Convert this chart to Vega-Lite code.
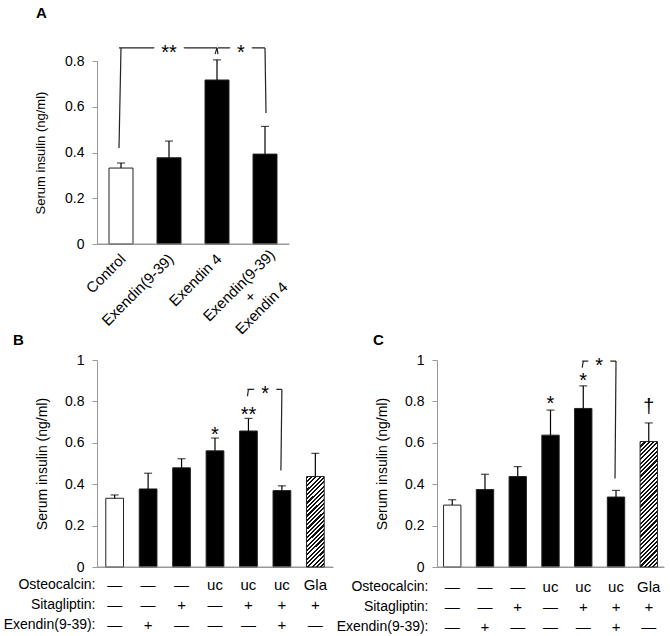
{
  "$schema": "https://vega.github.io/schema/vega-lite/v6.json",
  "padding": {"left": 3, "top": 5, "right": 2, "bottom": 2},
  "bounds": "flush",
  "spacing": 116,
  "config": {
    "font": "Liberation Sans",
    "view": {"stroke": null},
    "axis": {"labelColor": "black", "titleColor": "black", "domainColor": "#999", "tickColor": "#999", "grid": false},
    "title": {"color": "black"}
  },
  "datasets": {
    "barsA": [
      {"treatment": "Control", "mean": 0.332, "upper": 0.354, "bar": "open"},
      {"treatment": "Exendin(9-39)", "mean": 0.377, "upper": 0.45, "bar": "solid"},
      {"treatment": "Exendin 4", "mean": 0.717, "upper": 0.805, "bar": "solid"},
      {"treatment": "Exendin(9-39)|+|Exendin 4", "mean": 0.393, "upper": 0.514, "bar": "solid"}
    ],
    "bracketA": [
      {"bracket": 1, "treatment": "Control", "treatment2": "Control", "y": 0.42, "y2": 0.857},
      {"bracket": 1, "treatment": "Control", "treatment2": "Exendin 4", "y": 0.857, "y2": 0.857},
      {"bracket": 1, "treatment": "Exendin 4", "treatment2": "Exendin 4", "y": 0.83, "y2": 0.857},
      {"bracket": 2, "treatment": "Exendin 4", "treatment2": "Exendin 4", "y": 0.83, "y2": 0.857},
      {"bracket": 2, "treatment": "Exendin 4", "treatment2": "Exendin(9-39)|+|Exendin 4", "y": 0.857, "y2": 0.857},
      {"bracket": 2, "treatment": "Exendin(9-39)|+|Exendin 4", "treatment2": "Exendin(9-39)|+|Exendin 4", "y": 0.573, "y2": 0.857}
    ],
    "bracketLabelA": [
      {"treatment": "Exendin(9-39)", "label": "**", "y": 0.857},
      {"treatment": "Exendin 4", "label": "*", "y": 0.857}
    ],
    "barsB": [
      {"treatment": "—|—|—", "osteocalcin": "—", "sitagliptin": "—", "exendin": "—", "mean": 0.332, "upper": 0.348, "bar": "open"},
      {"treatment": "—|—|+", "osteocalcin": "—", "sitagliptin": "—", "exendin": "+", "mean": 0.377, "upper": 0.453, "bar": "solid"},
      {"treatment": "—|+|—", "osteocalcin": "—", "sitagliptin": "+", "exendin": "—", "mean": 0.479, "upper": 0.523, "bar": "solid"},
      {"treatment": "uc|—|—", "osteocalcin": "uc", "sitagliptin": "—", "exendin": "—", "mean": 0.561, "upper": 0.623, "bar": "solid"},
      {"treatment": "uc|+|—", "osteocalcin": "uc", "sitagliptin": "+", "exendin": "—", "mean": 0.657, "upper": 0.718, "bar": "solid"},
      {"treatment": "uc|+|+", "osteocalcin": "uc", "sitagliptin": "+", "exendin": "+", "mean": 0.369, "upper": 0.392, "bar": "solid"},
      {"treatment": "Gla|+|—", "osteocalcin": "Gla", "sitagliptin": "+", "exendin": "—", "mean": 0.437, "upper": 0.549, "bar": "hatched"}
    ],
    "bracketB": [
      {"treatment": "uc|+|—", "treatment2": "uc|+|—", "y": 0.825, "y2": 0.858},
      {"treatment": "uc|+|—", "treatment2": "uc|+|+", "y": 0.858, "y2": 0.858},
      {"treatment": "uc|+|+", "treatment2": "uc|+|+", "y": 0.466, "y2": 0.858}
    ],
    "bracketLabelB": [
      {"treatment": "uc|+|—", "label": "*", "y": 0.858}
    ],
    "notesB": [
      {"treatment": "uc|—|—", "label": "*", "y": 0.663},
      {"treatment": "uc|+|—", "label": "**", "y": 0.757}
    ],
    "barsC": [
      {"treatment": "—|—|—", "osteocalcin": "—", "sitagliptin": "—", "exendin": "—", "mean": 0.299, "upper": 0.325, "bar": "open"},
      {"treatment": "—|—|+", "osteocalcin": "—", "sitagliptin": "—", "exendin": "+", "mean": 0.374, "upper": 0.448, "bar": "solid"},
      {"treatment": "—|+|—", "osteocalcin": "—", "sitagliptin": "+", "exendin": "—", "mean": 0.437, "upper": 0.485, "bar": "solid"},
      {"treatment": "uc|—|—", "osteocalcin": "uc", "sitagliptin": "—", "exendin": "—", "mean": 0.637, "upper": 0.758, "bar": "solid"},
      {"treatment": "uc|+|—", "osteocalcin": "uc", "sitagliptin": "+", "exendin": "—", "mean": 0.766, "upper": 0.875, "bar": "solid"},
      {"treatment": "uc|+|+", "osteocalcin": "uc", "sitagliptin": "+", "exendin": "+", "mean": 0.338, "upper": 0.37, "bar": "solid"},
      {"treatment": "Gla|+|—", "osteocalcin": "Gla", "sitagliptin": "+", "exendin": "—", "mean": 0.606, "upper": 0.696, "bar": "hatched"}
    ],
    "bracketC": [
      {"treatment": "uc|+|—", "treatment2": "uc|+|—", "y": 0.963, "y2": 0.995},
      {"treatment": "uc|+|—", "treatment2": "uc|+|+", "y": 0.995, "y2": 0.995},
      {"treatment": "uc|+|+", "treatment2": "uc|+|+", "y": 0.427, "y2": 0.995}
    ],
    "bracketLabelC": [
      {"treatment": "uc|+|—", "label": "*", "y": 0.995}
    ],
    "notesC": [
      {"treatment": "uc|—|—", "label": "*", "y": 0.811},
      {"treatment": "uc|+|—", "label": "*", "y": 0.923},
      {"treatment": "Gla|+|—", "label": "†", "y": 0.795}
    ]
  },
  "vconcat": [
    {
      "title": {"text": "A", "anchor": "start", "frame": "group", "dx": -61, "offset": 7, "fontSize": 15, "fontWeight": "bold", "baseline": "bottom"},
      "width": 192,
      "height": 183,
      "layer": [
        {
          "data": {"name": "barsA"},
          "mark": {"type": "bar", "stroke": "#222", "strokeWidth": 1},
          "encoding": {
            "x": {
              "field": "treatment", "type": "nominal", "sort": null,
              "scale": {"domain": ["Control", "Exendin(9-39)", "Exendin 4", "Exendin(9-39)|+|Exendin 4"], "paddingInner": 0.5, "paddingOuter": 0.25},
              "axis": {
                "title": null, "ticks": false, "domain": true, "domainColor": "#999",
                "labelAngle": -45, "labelFontSize": 15, "labelLineHeight": 16,
                "labelBaseline": "middle", "labelOverlap": false, "labelBound": false,
                "labelExpr": "split(datum.label, '|')",
                "labelAlign": {"condition": {"test": "indexof(datum.value, '|') >= 0", "value": "center"}, "value": "right"},
                "labelPadding": {"condition": {"test": "indexof(datum.value, '|') >= 0", "value": 41}, "value": 12},
                "labelOffset": {"condition": {"test": "indexof(datum.value, '|') >= 0", "value": -26}, "value": 2}
              }
            },
            "y": {"field": "mean", "type": "quantitative", "scale": {"domain": [0, 0.8], "nice": false},
              "axis": {"title": "Serum insulin (ng/ml)", "values": [0, 0.2, 0.4, 0.6, 0.8], "format": "~g", "domain": true, "domainColor": "#999", "tickSize": 5, "labelPadding": 8, "labelFontSize": 14, "titleFontSize": 13, "titleFontWeight": "normal", "titlePadding": 17}},
            "fill": {"condition": {"test": "datum.bar === 'open'", "value": "white"}, "value": "black"}
          }
        },
        {
          "data": {"name": "barsA"},
          "transform": [{"filter": "datum.bar === 'open'"}],
          "mark": {"type": "rule", "color": "#999", "strokeWidth": 1},
          "encoding": {
            "y": {"datum": 0, "type": "quantitative", "scale": {"domain": [0, 0.8], "nice": false}}
          }
        },
        {
          "data": {"name": "barsA"},
          "mark": {"type": "rule", "color": "black", "strokeWidth": 1.2},
          "encoding": {
            "x": {"field": "treatment", "type": "nominal", "sort": null, "scale": {"domain": ["Control", "Exendin(9-39)", "Exendin 4", "Exendin(9-39)|+|Exendin 4"], "paddingInner": 0.5, "paddingOuter": 0.25}},
            "y": {"field": "mean", "type": "quantitative", "scale": {"domain": [0, 0.8], "nice": false}},
            "y2": {"field": "upper"}
          }
        },
        {
          "data": {"name": "barsA"},
          "mark": {"type": "tick", "color": "black", "thickness": 1.2, "size": 8},
          "encoding": {
            "x": {"field": "treatment", "type": "nominal", "sort": null, "scale": {"domain": ["Control", "Exendin(9-39)", "Exendin 4", "Exendin(9-39)|+|Exendin 4"], "paddingInner": 0.5, "paddingOuter": 0.25}},
            "y": {"field": "upper", "type": "quantitative", "scale": {"domain": [0, 0.8], "nice": false}}
          }
        },
        {
          "data": {"name": "bracketA"},
          "transform": [{"filter": "datum.bracket === 1"}],
          "mark": {"type": "rule", "color": "#222", "strokeWidth": 1.2, "xOffset": -2},
          "encoding": {
            "x": {"field": "treatment", "type": "nominal", "sort": null, "scale": {"domain": ["Control", "Exendin(9-39)", "Exendin 4", "Exendin(9-39)|+|Exendin 4"], "paddingInner": 0.5, "paddingOuter": 0.25}},
            "x2": {"field": "treatment2"},
            "y": {"field": "y", "type": "quantitative", "scale": {"domain": [0, 0.8], "nice": false}},
            "y2": {"field": "y2"}
          }
        },
        {
          "data": {"name": "bracketA"},
          "transform": [{"filter": "datum.bracket === 2"}],
          "mark": {"type": "rule", "color": "#222", "strokeWidth": 1.2, "xOffset": 1},
          "encoding": {
            "x": {"field": "treatment", "type": "nominal", "sort": null, "scale": {"domain": ["Control", "Exendin(9-39)", "Exendin 4", "Exendin(9-39)|+|Exendin 4"], "paddingInner": 0.5, "paddingOuter": 0.25}},
            "x2": {"field": "treatment2"},
            "y": {"field": "y", "type": "quantitative", "scale": {"domain": [0, 0.8], "nice": false}},
            "y2": {"field": "y2"}
          }
        },
        {
          "data": {"name": "bracketLabelA"},
          "transform": [{"filter": "datum.label === '**'"}],
          "mark": {"type": "text", "fontSize": 20, "dy": 5, "fill": "white", "stroke": "white", "strokeWidth": 14},
          "encoding": {
            "x": {"field": "treatment", "type": "nominal", "sort": null, "scale": {"domain": ["Control", "Exendin(9-39)", "Exendin 4", "Exendin(9-39)|+|Exendin 4"], "paddingInner": 0.5, "paddingOuter": 0.25}},
            "y": {"field": "y", "type": "quantitative", "scale": {"domain": [0, 0.8], "nice": false}},
            "text": {"field": "label"}
          }
        },
        {
          "data": {"name": "bracketLabelA"},
          "transform": [{"filter": "datum.label === '**'"}],
          "mark": {"type": "text", "fontSize": 20, "dy": 5, "color": "black"},
          "encoding": {
            "x": {"field": "treatment", "type": "nominal", "sort": null, "scale": {"domain": ["Control", "Exendin(9-39)", "Exendin 4", "Exendin(9-39)|+|Exendin 4"], "paddingInner": 0.5, "paddingOuter": 0.25}},
            "y": {"field": "y", "type": "quantitative", "scale": {"domain": [0, 0.8], "nice": false}},
            "text": {"field": "label"}
          }
        },
        {
          "data": {"name": "bracketLabelA"},
          "transform": [{"filter": "datum.label === '*'"}],
          "mark": {"type": "text", "fontSize": 20, "dy": 5, "dx": 24, "fill": "white", "stroke": "white", "strokeWidth": 14},
          "encoding": {
            "x": {"field": "treatment", "type": "nominal", "sort": null, "scale": {"domain": ["Control", "Exendin(9-39)", "Exendin 4", "Exendin(9-39)|+|Exendin 4"], "paddingInner": 0.5, "paddingOuter": 0.25}},
            "y": {"field": "y", "type": "quantitative", "scale": {"domain": [0, 0.8], "nice": false}},
            "text": {"field": "label"}
          }
        },
        {
          "data": {"name": "bracketLabelA"},
          "transform": [{"filter": "datum.label === '*'"}],
          "mark": {"type": "text", "fontSize": 20, "dy": 5, "dx": 24, "color": "black"},
          "encoding": {
            "x": {"field": "treatment", "type": "nominal", "sort": null, "scale": {"domain": ["Control", "Exendin(9-39)", "Exendin 4", "Exendin(9-39)|+|Exendin 4"], "paddingInner": 0.5, "paddingOuter": 0.25}},
            "y": {"field": "y", "type": "quantitative", "scale": {"domain": [0, 0.8], "nice": false}},
            "text": {"field": "label"}
          }
        }
      ]
    },
    {
      "bounds": "flush",
      "spacing": 104,
      "hconcat": [
        {
          "title": {"text": "B", "anchor": "start", "frame": "group", "dx": -84, "offset": -10, "fontSize": 15, "fontWeight": "bold", "baseline": "bottom"},
          "width": 236,
          "height": 207,
          "layer": [
            {
              "data": {"name": "barsB"},
              "transform": [{"filter": "datum.bar !== 'hatched'"}],
              "mark": {"type": "bar", "stroke": "#222", "strokeWidth": 1},
              "encoding": {
                "x": {
                  "field": "treatment", "type": "nominal", "sort": null,
                  "scale": {"domain": ["—|—|—", "—|—|+", "—|+|—", "uc|—|—", "uc|+|—", "uc|+|+", "Gla|+|—"], "paddingInner": 0.47, "paddingOuter": 0.263},
                  "axis": {
                    "title": ["Osteocalcin:", "Sitagliptin:", "Exendin(9-39):"], "titleX": -2, "titleY": 17, "titleAlign": "right", "titleBaseline": "middle", "titleAngle": 0,
                    "titleFontSize": 14, "titleFontWeight": "normal", "titleLineHeight": 20,
                    "ticks": false, "domain": true, "domainColor": "#999",
                    "labelAngle": 0, "labelAlign": "center", "labelBaseline": "middle", "labelPadding": 17,
                    "labelFontSize": 15, "labelLineHeight": 20, "labelOverlap": false, "labelBound": false,
                    "labelExpr": "split(datum.label, '|')"
                  }
                },
                "y": {"field": "mean", "type": "quantitative", "scale": {"domain": [0, 1], "nice": false},
                  "axis": {"title": "Serum insulin (ng/ml)", "values": [0, 0.2, 0.4, 0.6, 0.8, 1], "format": "~g", "domain": true, "domainColor": "#999", "tickSize": 5, "labelPadding": 8, "labelFontSize": 14, "titleFontSize": 14, "titleFontWeight": "normal", "titlePadding": 15}},
                "fill": {"condition": {"test": "datum.bar === 'open'", "value": "white"}, "value": "black"}
              }
            },
            {
              "data": {"name": "barsB"},
              "transform": [{"filter": "datum.bar === 'open'"}],
              "mark": {"type": "rule", "color": "#999", "strokeWidth": 1},
              "encoding": {
                "y": {"datum": 0, "type": "quantitative", "scale": {"domain": [0, 1], "nice": false}}
              }
            },
            {
              "data": {"name": "barsB"},
              "transform": [{"filter": "datum.bar === 'hatched'"}],
              "mark": {"type": "bar", "stroke": "#222", "strokeWidth": 1,
                "fill": {"gradient": "linear", "x1": 0, "y1": 0, "x2": 0.2225, "y2": 1.15, "stops": [
                  {"offset": 0, "color": "#111"}, {"offset": 0.02, "color": "#111"}, {"offset": 0.02, "color": "#fff"}, {"offset": 0.04, "color": "#fff"},
                  {"offset": 0.04, "color": "#111"}, {"offset": 0.06, "color": "#111"}, {"offset": 0.06, "color": "#fff"}, {"offset": 0.08, "color": "#fff"},
                  {"offset": 0.08, "color": "#111"}, {"offset": 0.10, "color": "#111"}, {"offset": 0.10, "color": "#fff"}, {"offset": 0.12, "color": "#fff"},
                  {"offset": 0.12, "color": "#111"}, {"offset": 0.14, "color": "#111"}, {"offset": 0.14, "color": "#fff"}, {"offset": 0.16, "color": "#fff"},
                  {"offset": 0.16, "color": "#111"}, {"offset": 0.18, "color": "#111"}, {"offset": 0.18, "color": "#fff"}, {"offset": 0.20, "color": "#fff"},
                  {"offset": 0.20, "color": "#111"}, {"offset": 0.22, "color": "#111"}, {"offset": 0.22, "color": "#fff"}, {"offset": 0.24, "color": "#fff"},
                  {"offset": 0.24, "color": "#111"}, {"offset": 0.26, "color": "#111"}, {"offset": 0.26, "color": "#fff"}, {"offset": 0.28, "color": "#fff"},
                  {"offset": 0.28, "color": "#111"}, {"offset": 0.30, "color": "#111"}, {"offset": 0.30, "color": "#fff"}, {"offset": 0.32, "color": "#fff"},
                  {"offset": 0.32, "color": "#111"}, {"offset": 0.34, "color": "#111"}, {"offset": 0.34, "color": "#fff"}, {"offset": 0.36, "color": "#fff"},
                  {"offset": 0.36, "color": "#111"}, {"offset": 0.38, "color": "#111"}, {"offset": 0.38, "color": "#fff"}, {"offset": 0.40, "color": "#fff"},
                  {"offset": 0.40, "color": "#111"}, {"offset": 0.42, "color": "#111"}, {"offset": 0.42, "color": "#fff"}, {"offset": 0.44, "color": "#fff"},
                  {"offset": 0.44, "color": "#111"}, {"offset": 0.46, "color": "#111"}, {"offset": 0.46, "color": "#fff"}, {"offset": 0.48, "color": "#fff"},
                  {"offset": 0.48, "color": "#111"}, {"offset": 0.50, "color": "#111"}, {"offset": 0.50, "color": "#fff"}, {"offset": 0.52, "color": "#fff"},
                  {"offset": 0.52, "color": "#111"}, {"offset": 0.54, "color": "#111"}, {"offset": 0.54, "color": "#fff"}, {"offset": 0.56, "color": "#fff"},
                  {"offset": 0.56, "color": "#111"}, {"offset": 0.58, "color": "#111"}, {"offset": 0.58, "color": "#fff"}, {"offset": 0.60, "color": "#fff"},
                  {"offset": 0.60, "color": "#111"}, {"offset": 0.62, "color": "#111"}, {"offset": 0.62, "color": "#fff"}, {"offset": 0.64, "color": "#fff"},
                  {"offset": 0.64, "color": "#111"}, {"offset": 0.66, "color": "#111"}, {"offset": 0.66, "color": "#fff"}, {"offset": 0.68, "color": "#fff"},
                  {"offset": 0.68, "color": "#111"}, {"offset": 0.70, "color": "#111"}, {"offset": 0.70, "color": "#fff"}, {"offset": 0.72, "color": "#fff"},
                  {"offset": 0.72, "color": "#111"}, {"offset": 0.74, "color": "#111"}, {"offset": 0.74, "color": "#fff"}, {"offset": 0.76, "color": "#fff"},
                  {"offset": 0.76, "color": "#111"}, {"offset": 0.78, "color": "#111"}, {"offset": 0.78, "color": "#fff"}, {"offset": 0.80, "color": "#fff"},
                  {"offset": 0.80, "color": "#111"}, {"offset": 0.82, "color": "#111"}, {"offset": 0.82, "color": "#fff"}, {"offset": 0.84, "color": "#fff"},
                  {"offset": 0.84, "color": "#111"}, {"offset": 0.86, "color": "#111"}, {"offset": 0.86, "color": "#fff"}, {"offset": 0.88, "color": "#fff"},
                  {"offset": 0.88, "color": "#111"}, {"offset": 0.90, "color": "#111"}, {"offset": 0.90, "color": "#fff"}, {"offset": 0.92, "color": "#fff"},
                  {"offset": 0.92, "color": "#111"}, {"offset": 0.94, "color": "#111"}, {"offset": 0.94, "color": "#fff"}, {"offset": 0.96, "color": "#fff"},
                  {"offset": 0.96, "color": "#111"}, {"offset": 0.98, "color": "#111"}, {"offset": 0.98, "color": "#fff"}, {"offset": 1, "color": "#fff"}
                ]}},
              "encoding": {
                "x": {"field": "treatment", "type": "nominal", "sort": null, "scale": {"domain": ["—|—|—", "—|—|+", "—|+|—", "uc|—|—", "uc|+|—", "uc|+|+", "Gla|+|—"], "paddingInner": 0.47, "paddingOuter": 0.263}},
                "y": {"field": "mean", "type": "quantitative", "scale": {"domain": [0, 1], "nice": false}}
              }
            },
            {
              "data": {"name": "barsB"},
              "mark": {"type": "rule", "color": "black", "strokeWidth": 1.2},
              "encoding": {
                "x": {"field": "treatment", "type": "nominal", "sort": null, "scale": {"domain": ["—|—|—", "—|—|+", "—|+|—", "uc|—|—", "uc|+|—", "uc|+|+", "Gla|+|—"], "paddingInner": 0.47, "paddingOuter": 0.263}},
                "y": {"field": "mean", "type": "quantitative", "scale": {"domain": [0, 1], "nice": false}},
                "y2": {"field": "upper"}
              }
            },
            {
              "data": {"name": "barsB"},
              "mark": {"type": "tick", "color": "black", "thickness": 1.2, "size": 8},
              "encoding": {
                "x": {"field": "treatment", "type": "nominal", "sort": null, "scale": {"domain": ["—|—|—", "—|—|+", "—|+|—", "uc|—|—", "uc|+|—", "uc|+|+", "Gla|+|—"], "paddingInner": 0.47, "paddingOuter": 0.263}},
                "y": {"field": "upper", "type": "quantitative", "scale": {"domain": [0, 1], "nice": false}}
              }
            },
            {
              "data": {"name": "bracketB"},
              "mark": {"type": "rule", "color": "#222", "strokeWidth": 1.2, "xOffset": -1},
              "encoding": {
                "x": {"field": "treatment", "type": "nominal", "sort": null, "scale": {"domain": ["—|—|—", "—|—|+", "—|+|—", "uc|—|—", "uc|+|—", "uc|+|+", "Gla|+|—"], "paddingInner": 0.47, "paddingOuter": 0.263}},
                "x2": {"field": "treatment2"},
                "y": {"field": "y", "type": "quantitative", "scale": {"domain": [0, 1], "nice": false}},
                "y2": {"field": "y2"}
              }
            },
            {
              "data": {"name": "bracketLabelB"},
              "mark": {"type": "text", "fontSize": 20, "dy": 5, "dx": 16.7, "fill": "white", "stroke": "white", "strokeWidth": 14},
              "encoding": {
                "x": {"field": "treatment", "type": "nominal", "sort": null, "scale": {"domain": ["—|—|—", "—|—|+", "—|+|—", "uc|—|—", "uc|+|—", "uc|+|+", "Gla|+|—"], "paddingInner": 0.47, "paddingOuter": 0.263}},
                "y": {"field": "y", "type": "quantitative", "scale": {"domain": [0, 1], "nice": false}},
                "text": {"field": "label"}
              }
            },
            {
              "data": {"name": "bracketLabelB"},
              "mark": {"type": "text", "fontSize": 20, "dy": 5, "dx": 16.7, "color": "black"},
              "encoding": {
                "x": {"field": "treatment", "type": "nominal", "sort": null, "scale": {"domain": ["—|—|—", "—|—|+", "—|+|—", "uc|—|—", "uc|+|—", "uc|+|+", "Gla|+|—"], "paddingInner": 0.47, "paddingOuter": 0.263}},
                "y": {"field": "y", "type": "quantitative", "scale": {"domain": [0, 1], "nice": false}},
                "text": {"field": "label"}
              }
            },
            {
              "data": {"name": "notesB"},
              "mark": {"type": "text", "fontSize": 20, "dy": 5, "color": "black"},
              "encoding": {
                "x": {"field": "treatment", "type": "nominal", "sort": null, "scale": {"domain": ["—|—|—", "—|—|+", "—|+|—", "uc|—|—", "uc|+|—", "uc|+|+", "Gla|+|—"], "paddingInner": 0.47, "paddingOuter": 0.263}},
                "y": {"field": "y", "type": "quantitative", "scale": {"domain": [0, 1], "nice": false}},
                "text": {"field": "label"}
              }
            }
          ]
        },
        {
          "title": {"text": "C", "anchor": "start", "frame": "group", "dx": -64, "offset": -10, "fontSize": 15, "fontWeight": "bold", "baseline": "bottom"},
          "width": 227,
          "height": 207,
          "layer": [
            {
              "data": {"name": "barsC"},
              "transform": [{"filter": "datum.bar !== 'hatched'"}],
              "mark": {"type": "bar", "stroke": "#222", "strokeWidth": 1},
              "encoding": {
                "x": {
                  "field": "treatment", "type": "nominal", "sort": null,
                  "scale": {"domain": ["—|—|—", "—|—|+", "—|+|—", "uc|—|—", "uc|+|—", "uc|+|+", "Gla|+|—"], "paddingInner": 0.47, "paddingOuter": 0.2},
                  "axis": {
                    "title": ["Osteocalcin:", "Sitagliptin:", "Exendin(9-39):"], "titleX": -9, "titleY": 19, "titleAlign": "right", "titleBaseline": "middle", "titleAngle": 0,
                    "titleFontSize": 14, "titleFontWeight": "normal", "titleLineHeight": 20,
                    "ticks": false, "domain": true, "domainColor": "#999",
                    "labelAngle": 0, "labelAlign": "center", "labelBaseline": "middle", "labelPadding": 19,
                    "labelFontSize": 15, "labelLineHeight": 20, "labelOverlap": false, "labelBound": false,
                    "labelExpr": "split(datum.label, '|')"
                  }
                },
                "y": {"field": "mean", "type": "quantitative", "scale": {"domain": [0, 1], "nice": false},
                  "axis": {"title": "Serum insulin (ng/ml)", "values": [0, 0.2, 0.4, 0.6, 0.8, 1], "format": "~g", "domain": true, "domainColor": "#999", "tickSize": 5, "labelPadding": 8, "labelFontSize": 14, "titleFontSize": 14, "titleFontWeight": "normal", "titlePadding": 15}},
                "fill": {"condition": {"test": "datum.bar === 'open'", "value": "white"}, "value": "black"}
              }
            },
            {
              "data": {"name": "barsC"},
              "transform": [{"filter": "datum.bar === 'open'"}],
              "mark": {"type": "rule", "color": "#999", "strokeWidth": 1},
              "encoding": {
                "y": {"datum": 0, "type": "quantitative", "scale": {"domain": [0, 1], "nice": false}}
              }
            },
            {
              "data": {"name": "barsC"},
              "transform": [{"filter": "datum.bar === 'hatched'"}],
              "mark": {"type": "bar", "stroke": "#222", "strokeWidth": 1,
                "fill": {"gradient": "linear", "x1": 0, "y1": 0, "x2": 0.1547, "y2": 1.1174, "stops": [
                  {"offset": 0, "color": "#111"}, {"offset": 0.015, "color": "#111"}, {"offset": 0.015, "color": "#fff"}, {"offset": 0.03, "color": "#fff"},
                  {"offset": 0.03, "color": "#111"}, {"offset": 0.045, "color": "#111"}, {"offset": 0.045, "color": "#fff"}, {"offset": 0.06, "color": "#fff"},
                  {"offset": 0.06, "color": "#111"}, {"offset": 0.075, "color": "#111"}, {"offset": 0.075, "color": "#fff"}, {"offset": 0.09, "color": "#fff"},
                  {"offset": 0.09, "color": "#111"}, {"offset": 0.105, "color": "#111"}, {"offset": 0.105, "color": "#fff"}, {"offset": 0.12, "color": "#fff"},
                  {"offset": 0.12, "color": "#111"}, {"offset": 0.135, "color": "#111"}, {"offset": 0.135, "color": "#fff"}, {"offset": 0.15, "color": "#fff"},
                  {"offset": 0.15, "color": "#111"}, {"offset": 0.165, "color": "#111"}, {"offset": 0.165, "color": "#fff"}, {"offset": 0.18, "color": "#fff"},
                  {"offset": 0.18, "color": "#111"}, {"offset": 0.195, "color": "#111"}, {"offset": 0.195, "color": "#fff"}, {"offset": 0.21, "color": "#fff"},
                  {"offset": 0.21, "color": "#111"}, {"offset": 0.225, "color": "#111"}, {"offset": 0.225, "color": "#fff"}, {"offset": 0.24, "color": "#fff"},
                  {"offset": 0.24, "color": "#111"}, {"offset": 0.255, "color": "#111"}, {"offset": 0.255, "color": "#fff"}, {"offset": 0.27, "color": "#fff"},
                  {"offset": 0.27, "color": "#111"}, {"offset": 0.285, "color": "#111"}, {"offset": 0.285, "color": "#fff"}, {"offset": 0.30, "color": "#fff"},
                  {"offset": 0.30, "color": "#111"}, {"offset": 0.315, "color": "#111"}, {"offset": 0.315, "color": "#fff"}, {"offset": 0.33, "color": "#fff"},
                  {"offset": 0.33, "color": "#111"}, {"offset": 0.345, "color": "#111"}, {"offset": 0.345, "color": "#fff"}, {"offset": 0.36, "color": "#fff"},
                  {"offset": 0.36, "color": "#111"}, {"offset": 0.375, "color": "#111"}, {"offset": 0.375, "color": "#fff"}, {"offset": 0.39, "color": "#fff"},
                  {"offset": 0.39, "color": "#111"}, {"offset": 0.405, "color": "#111"}, {"offset": 0.405, "color": "#fff"}, {"offset": 0.42, "color": "#fff"},
                  {"offset": 0.42, "color": "#111"}, {"offset": 0.435, "color": "#111"}, {"offset": 0.435, "color": "#fff"}, {"offset": 0.45, "color": "#fff"},
                  {"offset": 0.45, "color": "#111"}, {"offset": 0.465, "color": "#111"}, {"offset": 0.465, "color": "#fff"}, {"offset": 0.48, "color": "#fff"},
                  {"offset": 0.48, "color": "#111"}, {"offset": 0.495, "color": "#111"}, {"offset": 0.495, "color": "#fff"}, {"offset": 0.51, "color": "#fff"},
                  {"offset": 0.51, "color": "#111"}, {"offset": 0.525, "color": "#111"}, {"offset": 0.525, "color": "#fff"}, {"offset": 0.54, "color": "#fff"},
                  {"offset": 0.54, "color": "#111"}, {"offset": 0.555, "color": "#111"}, {"offset": 0.555, "color": "#fff"}, {"offset": 0.57, "color": "#fff"},
                  {"offset": 0.57, "color": "#111"}, {"offset": 0.585, "color": "#111"}, {"offset": 0.585, "color": "#fff"}, {"offset": 0.60, "color": "#fff"},
                  {"offset": 0.60, "color": "#111"}, {"offset": 0.615, "color": "#111"}, {"offset": 0.615, "color": "#fff"}, {"offset": 0.63, "color": "#fff"},
                  {"offset": 0.63, "color": "#111"}, {"offset": 0.645, "color": "#111"}, {"offset": 0.645, "color": "#fff"}, {"offset": 0.66, "color": "#fff"},
                  {"offset": 0.66, "color": "#111"}, {"offset": 0.675, "color": "#111"}, {"offset": 0.675, "color": "#fff"}, {"offset": 0.69, "color": "#fff"},
                  {"offset": 0.69, "color": "#111"}, {"offset": 0.705, "color": "#111"}, {"offset": 0.705, "color": "#fff"}, {"offset": 0.72, "color": "#fff"},
                  {"offset": 0.72, "color": "#111"}, {"offset": 0.735, "color": "#111"}, {"offset": 0.735, "color": "#fff"}, {"offset": 0.75, "color": "#fff"},
                  {"offset": 0.75, "color": "#111"}, {"offset": 0.765, "color": "#111"}, {"offset": 0.765, "color": "#fff"}, {"offset": 0.78, "color": "#fff"},
                  {"offset": 0.78, "color": "#111"}, {"offset": 0.795, "color": "#111"}, {"offset": 0.795, "color": "#fff"}, {"offset": 0.81, "color": "#fff"},
                  {"offset": 0.81, "color": "#111"}, {"offset": 0.825, "color": "#111"}, {"offset": 0.825, "color": "#fff"}, {"offset": 0.84, "color": "#fff"},
                  {"offset": 0.84, "color": "#111"}, {"offset": 0.855, "color": "#111"}, {"offset": 0.855, "color": "#fff"}, {"offset": 0.87, "color": "#fff"},
                  {"offset": 0.87, "color": "#111"}, {"offset": 0.885, "color": "#111"}, {"offset": 0.885, "color": "#fff"}, {"offset": 0.90, "color": "#fff"},
                  {"offset": 0.90, "color": "#111"}, {"offset": 0.915, "color": "#111"}, {"offset": 0.915, "color": "#fff"}, {"offset": 0.93, "color": "#fff"},
                  {"offset": 0.93, "color": "#111"}, {"offset": 0.945, "color": "#111"}, {"offset": 0.945, "color": "#fff"}, {"offset": 0.96, "color": "#fff"},
                  {"offset": 0.96, "color": "#111"}, {"offset": 0.975, "color": "#111"}, {"offset": 0.975, "color": "#fff"}, {"offset": 0.99, "color": "#fff"},
                  {"offset": 0.99, "color": "#111"}, {"offset": 1, "color": "#111"}
                ]}},
              "encoding": {
                "x": {"field": "treatment", "type": "nominal", "sort": null, "scale": {"domain": ["—|—|—", "—|—|+", "—|+|—", "uc|—|—", "uc|+|—", "uc|+|+", "Gla|+|—"], "paddingInner": 0.47, "paddingOuter": 0.2}},
                "y": {"field": "mean", "type": "quantitative", "scale": {"domain": [0, 1], "nice": false}}
              }
            },
            {
              "data": {"name": "barsC"},
              "mark": {"type": "rule", "color": "black", "strokeWidth": 1.2},
              "encoding": {
                "x": {"field": "treatment", "type": "nominal", "sort": null, "scale": {"domain": ["—|—|—", "—|—|+", "—|+|—", "uc|—|—", "uc|+|—", "uc|+|+", "Gla|+|—"], "paddingInner": 0.47, "paddingOuter": 0.2}},
                "y": {"field": "mean", "type": "quantitative", "scale": {"domain": [0, 1], "nice": false}},
                "y2": {"field": "upper"}
              }
            },
            {
              "data": {"name": "barsC"},
              "mark": {"type": "tick", "color": "black", "thickness": 1.2, "size": 8},
              "encoding": {
                "x": {"field": "treatment", "type": "nominal", "sort": null, "scale": {"domain": ["—|—|—", "—|—|+", "—|+|—", "uc|—|—", "uc|+|—", "uc|+|+", "Gla|+|—"], "paddingInner": 0.47, "paddingOuter": 0.2}},
                "y": {"field": "upper", "type": "quantitative", "scale": {"domain": [0, 1], "nice": false}}
              }
            },
            {
              "data": {"name": "bracketC"},
              "mark": {"type": "rule", "color": "#222", "strokeWidth": 1.2, "xOffset": -1},
              "encoding": {
                "x": {"field": "treatment", "type": "nominal", "sort": null, "scale": {"domain": ["—|—|—", "—|—|+", "—|+|—", "uc|—|—", "uc|+|—", "uc|+|+", "Gla|+|—"], "paddingInner": 0.47, "paddingOuter": 0.2}},
                "x2": {"field": "treatment2"},
                "y": {"field": "y", "type": "quantitative", "scale": {"domain": [0, 1], "nice": false}},
                "y2": {"field": "y2"}
              }
            },
            {
              "data": {"name": "bracketLabelC"},
              "mark": {"type": "text", "fontSize": 20, "dy": 5, "dx": 16, "fill": "white", "stroke": "white", "strokeWidth": 14},
              "encoding": {
                "x": {"field": "treatment", "type": "nominal", "sort": null, "scale": {"domain": ["—|—|—", "—|—|+", "—|+|—", "uc|—|—", "uc|+|—", "uc|+|+", "Gla|+|—"], "paddingInner": 0.47, "paddingOuter": 0.2}},
                "y": {"field": "y", "type": "quantitative", "scale": {"domain": [0, 1], "nice": false}},
                "text": {"field": "label"}
              }
            },
            {
              "data": {"name": "bracketLabelC"},
              "mark": {"type": "text", "fontSize": 20, "dy": 5, "dx": 16, "color": "black"},
              "encoding": {
                "x": {"field": "treatment", "type": "nominal", "sort": null, "scale": {"domain": ["—|—|—", "—|—|+", "—|+|—", "uc|—|—", "uc|+|—", "uc|+|+", "Gla|+|—"], "paddingInner": 0.47, "paddingOuter": 0.2}},
                "y": {"field": "y", "type": "quantitative", "scale": {"domain": [0, 1], "nice": false}},
                "text": {"field": "label"}
              }
            },
            {
              "data": {"name": "notesC"},
              "mark": {"type": "text", "fontSize": 20, "dy": 5, "color": "black"},
              "encoding": {
                "x": {"field": "treatment", "type": "nominal", "sort": null, "scale": {"domain": ["—|—|—", "—|—|+", "—|+|—", "uc|—|—", "uc|+|—", "uc|+|+", "Gla|+|—"], "paddingInner": 0.47, "paddingOuter": 0.2}},
                "y": {"field": "y", "type": "quantitative", "scale": {"domain": [0, 1], "nice": false}},
                "text": {"field": "label"}
              }
            }
          ]
        }
      ]
    }
  ]
}
